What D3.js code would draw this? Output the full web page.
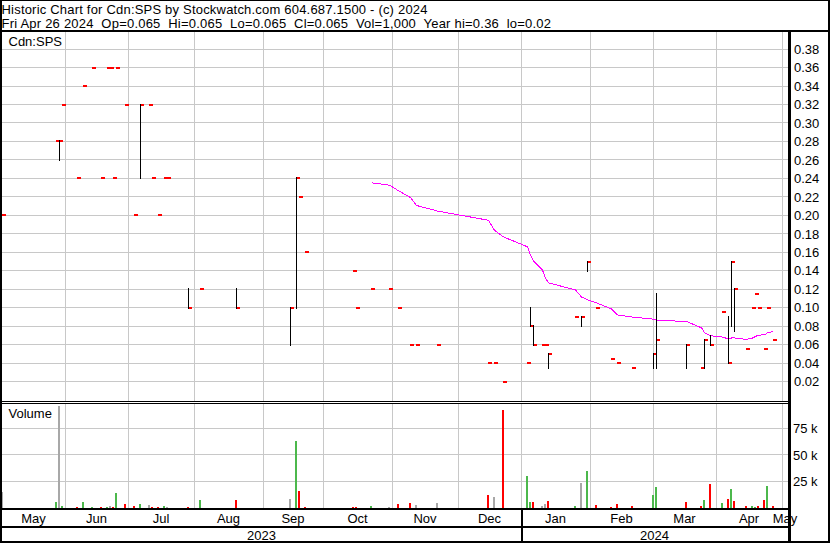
<!DOCTYPE html>
<html><head><meta charset="utf-8">
<script src="https://cdn.jsdelivr.net/npm/d3@7"></script>
<style>
html,body{margin:0;padding:0;background:#fff;}
svg{display:block;}
text{font-family:"Liberation Sans",Arial,sans-serif;fill:#000;}
</style>
</head><body>
<svg id="chart" width="830" height="543"></svg>
<script>
// ---------------- data ----------------
const tradeDates = ["2023-05-03","2023-05-29","2023-05-30","2023-05-31","2023-06-07","2023-06-09","2023-06-14","2023-06-19","2023-06-21","2023-06-22","2023-06-23","2023-06-26","2023-06-29","2023-07-04","2023-07-06","2023-07-11","2023-07-12","2023-07-14","2023-07-18","2023-07-19","2023-07-28","2023-08-03","2023-08-21","2023-09-14","2023-09-18","2023-09-19","2023-09-21","2023-10-13","2023-10-16","2023-10-23","2023-10-31","2023-11-03","2023-11-09","2023-11-13","2023-11-22","2023-12-15","2023-12-19","2023-12-22","2024-01-03","2024-01-04","2024-01-05","2024-01-10","2024-01-11","2024-01-12","2024-01-25","2024-01-29","2024-01-31","2024-02-05","2024-02-12","2024-02-14","2024-02-21","2024-03-01","2024-03-04","2024-03-18","2024-03-25","2024-03-26","2024-03-28","2024-04-03","2024-04-05","2024-04-08","2024-04-09","2024-04-15","2024-04-17","2024-04-18","2024-04-19","2024-04-23","2024-04-24","2024-04-26"];
const highs = [0.20,0.28,0.28,0.32,0.24,0.34,0.36,0.24,0.36,0.36,0.24,0.36,0.32,0.20,0.32,0.32,0.24,0.20,0.24,0.24,0.12,0.12,0.12,0.10,0.24,0.22,0.16,0.14,0.10,0.12,0.12,0.10,0.06,0.06,0.06,0.04,0.04,0.02,0.04,0.10,0.08,0.06,0.06,0.05,0.09,0.09,0.15,0.10,0.045,0.04,0.035,0.05,0.115,0.06,0.035,0.065,0.07,0.095,0.09,0.15,0.12,0.055,0.10,0.115,0.10,0.055,0.10,0.065];
const lows = [0.20,0.28,0.26,0.32,0.24,0.34,0.36,0.24,0.36,0.36,0.24,0.36,0.32,0.20,0.24,0.32,0.24,0.20,0.24,0.24,0.10,0.12,0.10,0.06,0.10,0.22,0.16,0.14,0.10,0.12,0.12,0.10,0.06,0.06,0.06,0.04,0.04,0.02,0.04,0.08,0.06,0.06,0.06,0.035,0.09,0.08,0.14,0.10,0.045,0.04,0.035,0.035,0.035,0.035,0.035,0.035,0.06,0.095,0.04,0.08,0.075,0.055,0.10,0.115,0.10,0.055,0.10,0.065];
const closes = [0.20,0.28,0.28,0.32,0.24,0.34,0.36,0.24,0.36,0.36,0.24,0.36,0.32,0.20,0.32,0.32,0.24,0.20,0.24,0.24,0.10,0.12,0.10,0.10,0.24,0.22,0.16,0.14,0.10,0.12,0.12,0.10,0.06,0.06,0.06,0.04,0.04,0.02,0.04,0.08,0.06,0.06,0.06,0.05,0.09,0.09,0.15,0.10,0.045,0.04,0.035,0.05,0.065,0.06,0.035,0.065,0.06,0.095,0.04,0.15,0.12,0.055,0.10,0.115,0.10,0.055,0.10,0.065];
const volumes = [14500,5500,96500,1000,500,5500,500,500,500,1000,500,14000,3500,1000,3500,2000,500,500,1000,500,500,7500,7500,8000,63000,15500,500,500,500,1000,500,3500,4500,2500,4500,12000,10000,92500,30000,5500,5500,1000,3500,6500,1000,23500,35000,2000,500,3500,1000,12000,19000,5500,1000,7500,22500,4500,8500,18000,6500,1000,1000,500,1000,7500,20000,1000];
// 30-trade moving average (magenta line), starting at the 30th trade date
const maStartIndex = 29;
const ma30 = [0.2353,0.2327,0.2267,0.2193,0.2107,0.2047,0.1947,0.1840,0.1767,0.1660,0.1567,0.1507,0.1407,0.1320,0.1270,0.1193,0.1117,0.1087,0.1053,0.0988,0.0922,0.0900,0.0877,0.0865,0.0852,0.0783,0.0732,0.0698,0.0683,0.0663,0.0673,0.0673,0.0658,0.0672,0.0690,0.0703,0.0708,0.0728,0.0743];

const priceTicks = [0.02,0.04,0.06,0.08,0.10,0.12,0.14,0.16,0.18,0.20,0.22,0.24,0.26,0.28,0.30,0.32,0.34,0.36,0.38];
const volTicks = [25000,50000,75000];
const volTickLabels = ["25 k","50 k","75 k"];
const monthStarts = ["2023-06-01","2023-07-01","2023-08-01","2023-09-01","2023-10-01","2023-11-01","2023-12-01","2024-01-01","2024-02-01","2024-03-01","2024-04-01","2024-05-01"];
const monthLabels = ["May","Jun","Jul","Aug","Sep","Oct","Nov","Dec","Jan","Feb","Mar","Apr","May"];
const yearStarts = ["2024-01-01"];
const yearLabels = ["2023","2024"];
const titleLine1 = "Historic Chart for Cdn:SPS by Stockwatch.com 604.687.1500 - (c) 2024";
const titleLine2 = "Fri Apr 26 2024  Op=0.065  Hi=0.065  Lo=0.065  Cl=0.065  Vol=1,000  Year hi=0.36  lo=0.02";

// ---------------- layout ----------------
const W = 830, H = 543;
const plotL = 2, plotR = 788;
const priceTop = 32, priceBot = 401;
const volTop = 404, volBot = 508;
const gridColor = "#c8c8c8";

const svg = d3.select("#chart");
svg.append("rect").attr("width", W).attr("height", H).attr("fill", "#fff");

// weekday-index time axis (weekends collapse onto the previous Friday)
const parse = d3.utcParse("%Y-%m-%d");
const origin = parse("2023-05-01");
const isWeekend = d => d.getUTCDay() === 0 || d.getUTCDay() === 6;
function wdIndex(date) {
  let d = date;
  while (isWeekend(d)) d = d3.utcDay.offset(d, -1);
  return d3.utcDay.range(origin, d).filter(v => !isWeekend(v)).length;
}
const x = d3.scaleLinear().domain([0, 262]).range([-4, 782]);
const X = dateStr => Math.round(x(wdIndex(parse(dateStr))));

const yP = d3.scaleLinear().domain([0.02, 0.38]).range([381.7, 49.06]);
const yV = d3.scaleLinear().domain([0, 75000]).range([507.5, 428.5]);

const g = svg.append("g").attr("shape-rendering", "crispEdges");

// horizontal price gridlines
g.selectAll("line.pg").data(priceTicks).join("line")
  .attr("x1", plotL).attr("x2", plotR)
  .attr("y1", d => Math.floor(yP(d)) + 0.5).attr("y2", d => Math.floor(yP(d)) + 0.5)
  .attr("stroke", gridColor).attr("stroke-width", 1);
// horizontal volume gridlines
g.selectAll("line.vg").data(volTicks).join("line")
  .attr("x1", plotL).attr("x2", plotR)
  .attr("y1", d => Math.floor(yV(d)) + 0.5).attr("y2", d => Math.floor(yV(d)) + 0.5)
  .attr("stroke", gridColor).attr("stroke-width", 1);
// vertical month gridlines
const monthX = monthStarts.map(X);
monthX.forEach(mx => {
  g.append("line").attr("x1", mx + 0.5).attr("x2", mx + 0.5).attr("y1", priceTop).attr("y2", priceBot)
    .attr("stroke", gridColor);
  g.append("line").attr("x1", mx + 0.5).attr("x2", mx + 0.5).attr("y1", volTop).attr("y2", volBot)
    .attr("stroke", gridColor);
});

// moving average line
const maPts = ma30.map((v, i) => [X(tradeDates[maStartIndex + i]) + 0.5, yP(v)]);
g.append("path").attr("d", d3.line()(maPts)).attr("fill", "none")
  .attr("stroke", "#ff00ff").attr("stroke-width", 1);

// price bars: red close tick + black high-low line
const bars = tradeDates.map((d, i) => ({x: X(d), h: highs[i], l: lows[i], c: closes[i], v: volumes[i], i}));
g.selectAll("rect.tick").data(bars).join("rect")
  .attr("x", d => d.x).attr("width", 4)
  .attr("y", d => Math.round(yP(d.c)) - 1).attr("height", 2)
  .attr("fill", "#ff0000");
g.selectAll("rect.hl").data(bars.filter(d => d.h > d.l)).join("rect")
  .attr("x", d => d.x).attr("width", 1)
  .attr("y", d => Math.round(yP(d.h)) - 1)
  .attr("height", d => Math.round(yP(d.l)) - Math.round(yP(d.h)) + 2)
  .attr("fill", "#000");

// volume bars coloured by change in close
const volColor = d => d.i === 0 ? "#a8a8a8" :
  (d.c > closes[d.i - 1] ? "#4cb84c" : d.c < closes[d.i - 1] ? "#ff0000" : "#a8a8a8");
g.selectAll("rect.vol").data(bars).join("rect")
  .attr("x", d => d.x - 1).attr("width", 2)
  .attr("y", d => Math.round(yV(d.v)))
  .attr("height", d => volBot - Math.round(yV(d.v)))
  .attr("fill", volColor);

// frame lines
const blk = (x0, y0, w, h) => g.append("rect").attr("x", x0).attr("y", y0).attr("width", w).attr("height", h).attr("fill", "#000");
blk(0, 0, W, 1);          // top
blk(0, 0, 2, H);          // left
blk(W - 2, 0, 2, H);      // right
blk(0, H - 2, W, 2);      // bottom
blk(0, 30, W, 2);         // under header
blk(788, 31, 3, H - 31);  // right of plot
blk(0, 401, 788, 1);      // price/volume double line
blk(0, 403, 788, 1);
blk(0, 508, 788, 2);      // under volume
blk(0, 526, 788, 2);      // under months
const yearX = yearStarts.map(X);
yearX.forEach(yx => blk(yx, 508, 2, H - 508));

// ---------------- text ----------------
svg.append("text").attr("x", 1.5).attr("y", 13.5).attr("font-size", 13)
  .style("letter-spacing", "0.2px").style("white-space", "pre").text(titleLine1);
svg.append("text").attr("x", 1.5).attr("y", 28).attr("font-size", 13)
  .style("letter-spacing", "0.22px").style("white-space", "pre").text(titleLine2);
svg.append("text").attr("x", 8.5).attr("y", 46).attr("font-size", 13).text("Cdn:SPS");
svg.append("text").attr("x", 8.5).attr("y", 418).attr("font-size", 13).text("Volume");

// right price axis
const pAxis = d3.axisRight(yP).tickValues(priceTicks).tickFormat(d3.format(".2f")).tickSize(0).tickPadding(3);
const pa = svg.append("g").attr("transform", "translate(791,0)").call(pAxis);
pa.select(".domain").remove();
pa.selectAll("text").attr("font-size", 13).attr("font-family", "'Liberation Sans',Arial,sans-serif").attr("fill", "#000");

// right volume axis
const vAxis = d3.axisRight(yV).tickValues(volTicks).tickFormat((d, i) => volTickLabels[i]).tickSize(0).tickPadding(2);
const va = svg.append("g").attr("transform", "translate(791,0)").call(vAxis);
va.select(".domain").remove();
va.selectAll("text").attr("font-size", 13).attr("font-family", "'Liberation Sans',Arial,sans-serif").attr("fill", "#000");

// month labels centred between boundaries
const bounds = [plotL, ...monthX, plotR];
monthLabels.forEach((m, i) => {
  svg.append("text").attr("x", (bounds[i] + bounds[i + 1]) / 2).attr("y", 523)
    .attr("text-anchor", "middle").attr("font-size", 13).text(m);
});
const yb = [plotL, ...yearX, plotR];
yearLabels.forEach((yl, i) => {
  svg.append("text").attr("x", (yb[i] + yb[i + 1]) / 2).attr("y", 540)
    .attr("text-anchor", "middle").attr("font-size", 13).text(yl);
});
</script>
</body></html>
